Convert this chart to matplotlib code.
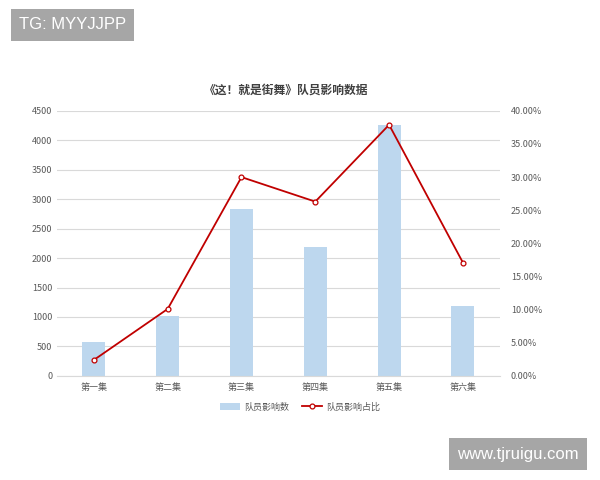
import numpy as np
import matplotlib.pyplot as plt
from matplotlib.ticker import FuncFormatter

plt.rcParams['font.family'] = ['Noto Sans CJK SC', 'DejaVu Sans']

episodes = ["第一集", "第二集", "第三集", "第四集", "第五集", "第六集"]
influence_count = [570, 1020, 2830, 2180, 4260, 1190]
influence_share = [2.4, 10.1, 30.0, 26.3, 37.9, 17.1]

fig = plt.figure(figsize=(6, 4.8), dpi=100)
ax = fig.add_axes([0.095, 0.217, 0.738, 0.552])
x = np.arange(len(episodes))

bars = ax.bar(x, influence_count, width=0.31, color="#bdd7ee", label="队员影响数", zorder=2)
ax.set_ylim(0, 4500)
ax.set_yticks(np.arange(0, 4501, 500))
ax.set_xlim(-0.5, len(episodes) - 0.5)
ax.set_xticks(x)
ax.set_xticklabels(episodes)
ax.grid(axis="y", color="#d9d9d9", linewidth=0.8, zorder=0)
for s in ["top", "right", "left"]:
	ax.spines[s].set_visible(False)
ax.spines["bottom"].set_color("#d9d9d9")
ax.tick_params(axis="both", length=0, labelsize=6.5, colors="#595959")
ax.tick_params(axis="x", pad=5)

ax2 = ax.twinx()
line, = ax2.plot(x, influence_share, color="#c00000", linewidth=1.3, marker="o",
				 markersize=3.5, markerfacecolor="white", markeredgecolor="#c00000",
				 markeredgewidth=0.9, label="队员影响占比", zorder=3)
ax2.set_ylim(0, 40)
ax2.set_yticks(np.arange(0, 40.1, 5))
ax2.yaxis.set_major_formatter(FuncFormatter(lambda v, p: f"{v:.2f}%"))
for s in ax2.spines.values():
	s.set_visible(False)
ax2.tick_params(axis="y", length=0, labelsize=6.5, colors="#595959", pad=8)

fig.text(0.477, 0.812, "《这！就是街舞》队员影响数据", ha="center", va="center",
		 fontsize=8.5, fontweight="bold", color="#404040")

fig.legend(handles=[bars, line], loc="center", bbox_to_anchor=(0.5, 0.152), ncol=2,
		   frameon=False, fontsize=6.5, labelcolor="#595959", handlelength=2.2,
		   columnspacing=1.5, handletextpad=0.4)

fig.text(0.121, 0.948, "TG: MYYJJPP", ha="center", va="center", fontsize=12,
		 color="white", family="Liberation Sans",
		 bbox=dict(boxstyle="square,pad=0.5", facecolor="#a6a6a6", edgecolor="none"))
fig.text(0.863, 0.054, "www.tjruigu.com", ha="center", va="center", fontsize=12,
		 color="white", family="Liberation Sans",
		 bbox=dict(boxstyle="square,pad=0.5", facecolor="#a6a6a6", edgecolor="none"))

fig.savefig("out.png", dpi=100)
